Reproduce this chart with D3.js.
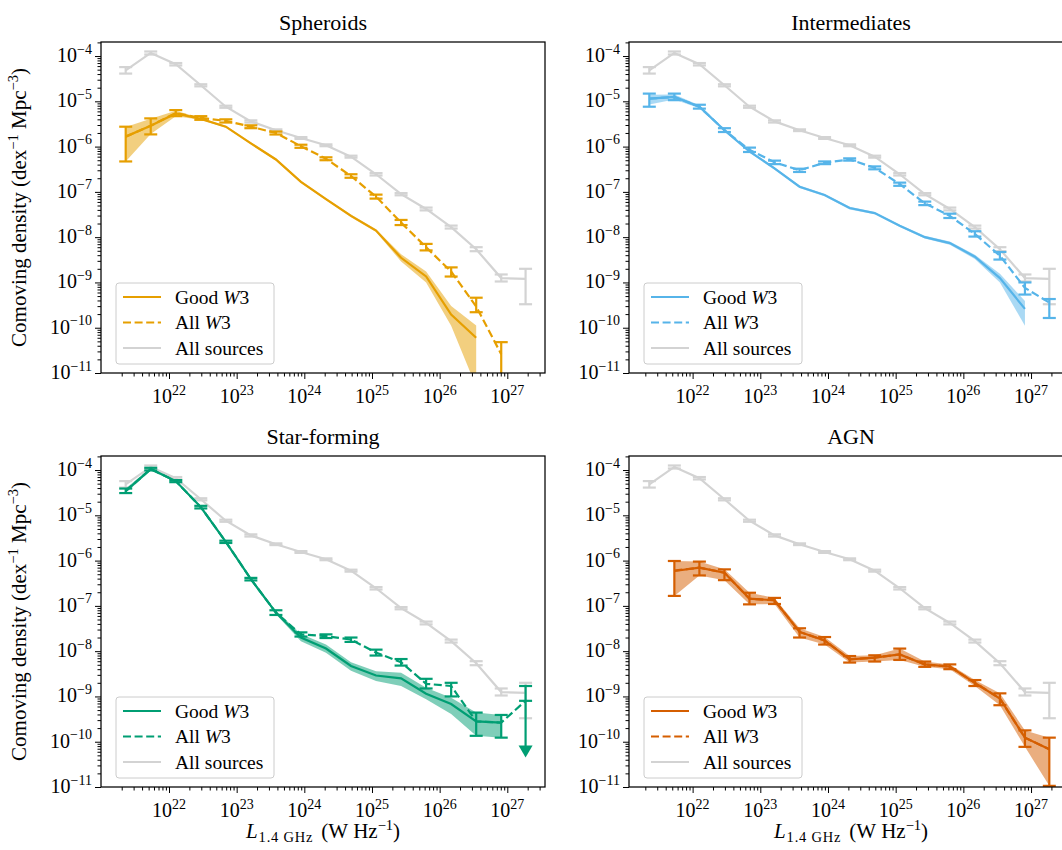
<!DOCTYPE html>
<html>
<head>
<meta charset="utf-8">
<script src="https://cdn.jsdelivr.net/npm/d3@7"></script>
<style>
  body { margin: 0; background: #fff; }
  text { font-family: "Liberation Serif", "DejaVu Serif", serif; fill: #000; }
</style>
</head>
<body>
<div id="chart"></div>
<script>
// Figure size
const width = 1062;
const height = 850;

// Bin centres (log10 L_1.4GHz, W/Hz)
const logL = [21.36, 21.73, 22.10, 22.47, 22.84, 23.21, 23.58, 23.95, 24.32,
              24.69, 25.06, 25.43, 25.80, 26.17, 26.54, 26.91, 27.27];

// All sources (grey reference curve)
const allSources   = [4.8e-5, 1.17e-4, 6.6e-5, 2.26e-5, 7.6e-6, 3.6e-6, 2.3e-6, 1.55e-6, 1.07e-6, 6.0e-7, 2.45e-7, 8.9e-8, 4.2e-8, 1.67e-8, 5.4e-9, 1.25e-9, 1.2e-9];
const allSourcesLo = [4.1e-5, 1.08e-4, 6.2e-5, 2.14e-5, 7.2e-6, 3.4e-6, 2.2e-6, 1.48e-6, 1.02e-6, 5.7e-7, 2.3e-7, 8.4e-8, 3.9e-8, 1.55e-8, 4.9e-9, 1.05e-9, 3.3e-10];
const allSourcesHi = [5.7e-5, 1.26e-4, 7.0e-5, 2.38e-5, 8.0e-6, 3.8e-6, 2.4e-6, 1.62e-6, 1.12e-6, 6.3e-7, 2.6e-7, 9.4e-8, 4.5e-8, 1.8e-8, 6.0e-9, 1.5e-9, 2.0e-9];

// Spheroids
const sphGood   = [1.66e-6, 2.9e-6, 5.4e-6, 4.1e-6, 2.75e-6, 1.18e-6, 5.2e-7, 1.67e-7, 6.9e-8, 2.95e-8, 1.4e-8, 3.5e-9, 1.36e-9, 1.95e-10, 6.0e-11, null, null];
const sphGoodLo = [4.7e-7, 1.9e-6, 4.7e-6, 3.9e-6, 2.6e-6, 1.12e-6, 4.9e-7, 1.58e-7, 6.5e-8, 2.75e-8, 1.3e-8, 2.9e-9, 1.0e-9, 1.1e-10, 5e-12, null, null];
const sphGoodHi = [2.7e-6, 4.1e-6, 6.2e-6, 4.3e-6, 2.9e-6, 1.24e-6, 5.5e-7, 1.76e-7, 7.3e-8, 3.15e-8, 1.5e-8, 4.2e-9, 1.75e-9, 3.0e-10, 1.12e-10, null, null];
const sphAll    = [1.66e-6, 2.9e-6, 5.5e-6, 4.3e-6, 3.7e-6, 2.75e-6, 2.0e-6, 1.02e-6, 5.4e-7, 2.24e-7, 7.85e-8, 2.1e-8, 6.0e-9, 1.74e-9, 2.95e-10, 2.6e-11, null];
const sphAllLo  = [4.7e-7, 1.86e-6, 4.7e-6, 3.9e-6, 3.4e-6, 2.55e-6, 1.85e-6, 9.4e-7, 5.0e-7, 2.05e-7, 7.1e-8, 1.85e-8, 5.1e-9, 1.35e-9, 2.2e-10, 1e-12, null];
const sphAllHi  = [2.75e-6, 4.2e-6, 6.4e-6, 4.7e-6, 4.0e-6, 2.95e-6, 2.15e-6, 1.1e-6, 5.8e-7, 2.45e-7, 8.7e-8, 2.4e-8, 7.1e-9, 2.15e-9, 4.6e-10, 4.8e-11, null];

// Intermediates
const intGood   = [1.15e-5, 1.25e-5, 7.6e-6, 2.3e-6, 7.8e-7, 3.3e-7, 1.3e-7, 8.5e-8, 4.4e-8, 3.4e-8, 1.78e-8, 1.0e-8, 7.4e-9, 3.7e-9, 1.25e-9, 2.6e-10, null];
const intGoodLo = [8.5e-6, 1.1e-5, 7.0e-6, 2.15e-6, 7.3e-7, 3.1e-7, 1.22e-7, 8.0e-8, 4.1e-8, 3.2e-8, 1.68e-8, 9.3e-9, 6.8e-9, 3.3e-9, 1.0e-9, 1.1e-10, null];
const intGoodHi = [1.4e-5, 1.42e-5, 8.2e-6, 2.45e-6, 8.3e-7, 3.5e-7, 1.38e-7, 9.0e-8, 4.7e-8, 3.6e-8, 1.88e-8, 1.07e-8, 8.0e-9, 4.1e-9, 1.55e-9, 3.9e-10, null];
const intAll    = [1.15e-5, 1.25e-5, 7.6e-6, 2.3e-6, 8.5e-7, 4.5e-7, 3.0e-7, 4.4e-7, 5.2e-7, 3.4e-7, 1.48e-7, 5.6e-8, 2.95e-8, 1.18e-8, 3.9e-9, 7.6e-10, 3.6e-10];
const intAllLo  = [7.6e-6, 1.06e-5, 6.9e-6, 2.1e-6, 7.6e-7, 4.1e-7, 2.75e-7, 4.1e-7, 4.9e-7, 3.15e-7, 1.36e-7, 5.1e-8, 2.65e-8, 1.03e-8, 3.2e-9, 5.4e-10, 1.64e-10];
const intAllHi  = [1.48e-5, 1.48e-5, 8.4e-6, 2.55e-6, 9.5e-7, 4.9e-7, 3.25e-7, 4.7e-7, 5.5e-7, 3.65e-7, 1.6e-7, 6.1e-8, 3.3e-8, 1.35e-8, 4.7e-9, 1.0e-9, 4.3e-10];

// Star-forming
const sfGood   = [3.45e-5, 1.05e-4, 5.7e-5, 1.52e-5, 2.6e-6, 3.9e-7, 7.1e-8, 2.0e-8, 1.14e-8, 4.7e-9, 2.9e-9, 2.5e-9, 1.15e-9, 6.8e-10, 2.8e-10, 2.65e-10, null];
const sfGoodLo = [3.1e-5, 9.8e-5, 5.4e-5, 1.42e-5, 2.45e-6, 3.65e-7, 6.5e-8, 1.65e-8, 9.2e-9, 3.7e-9, 2.2e-9, 1.7e-9, 8.7e-10, 4.1e-10, 1.35e-10, 1.23e-10, null];
const sfGoodHi = [3.9e-5, 1.12e-4, 6.0e-5, 1.62e-5, 2.75e-6, 4.15e-7, 7.8e-8, 2.4e-8, 1.4e-8, 5.7e-9, 3.6e-9, 3.35e-9, 1.55e-9, 9.3e-10, 4.4e-10, 3.9e-10, null];
const sfAll    = [3.45e-5, 1.05e-4, 5.7e-5, 1.52e-5, 2.6e-6, 3.9e-7, 7.1e-8, 2.35e-8, 2.15e-8, 1.8e-8, 9.3e-9, 5.7e-9, 1.9e-9, 1.7e-9, 2.8e-10, 2.65e-10, 8.0e-10];
const sfAllLo  = [3.1e-5, 9.8e-5, 5.4e-5, 1.42e-5, 2.45e-6, 3.65e-7, 6.3e-8, 2.1e-8, 1.95e-8, 1.6e-8, 8.0e-9, 4.8e-9, 1.5e-9, 1.0e-9, 1.35e-10, 1.23e-10, null];
const sfAllHi  = [3.9e-5, 1.12e-4, 6.0e-5, 1.62e-5, 2.75e-6, 4.15e-7, 8.0e-8, 2.6e-8, 2.35e-8, 2.0e-8, 1.08e-8, 6.7e-9, 2.45e-9, 2.0e-9, 4.4e-10, 3.9e-10, 1.7e-9];
// last star-forming bin is an upper limit, arrow drawn down to this value
const sfLimitIndex = 16;
const sfLimitTip = 4.5e-11;

// AGN
const agnGood   = [null, 5.9e-7, 7.0e-7, 5.4e-7, 1.44e-7, 1.33e-7, 2.66e-8, 1.73e-8, 6.6e-9, 7.2e-9, 8.5e-9, 5.1e-9, 4.55e-9, 2.0e-9, 9.0e-10, 1.23e-10, 6.8e-11];
const agnGoodLo = [null, 1.66e-7, 4.7e-7, 3.7e-7, 1.08e-7, 1.1e-7, 2.0e-8, 1.4e-8, 5.6e-9, 5.9e-9, 6.4e-9, 4.5e-9, 4.0e-9, 1.7e-9, 6.4e-10, 7.7e-11, 1.06e-11];
const agnGoodHi = [null, 9.8e-7, 9.5e-7, 6.4e-7, 1.95e-7, 1.5e-7, 3.2e-8, 2.05e-8, 7.8e-9, 8.1e-9, 1.14e-8, 5.9e-9, 5.1e-9, 2.3e-9, 1.17e-9, 1.78e-10, 1.23e-10];
const agnAll    = [null, 6.0e-7, 7.0e-7, 5.4e-7, 1.44e-7, 1.33e-7, 2.66e-8, 1.73e-8, 6.6e-9, 7.2e-9, 8.5e-9, 5.1e-9, 4.55e-9, 2.0e-9, 9.0e-10, 1.23e-10, 6.8e-11];
const agnAllLo  = [null, 1.66e-7, 4.7e-7, 3.7e-7, 1.08e-7, 1.1e-7, 2.0e-8, 1.4e-8, 5.6e-9, 5.9e-9, 6.4e-9, 4.5e-9, 4.0e-9, 1.7e-9, 6.4e-10, 7.7e-11, 1.06e-11];
const agnAllHi  = [null, 9.8e-7, 9.5e-7, 6.4e-7, 1.95e-7, 1.5e-7, 3.2e-8, 2.05e-8, 7.8e-9, 8.1e-9, 1.14e-8, 5.9e-9, 5.1e-9, 2.3e-9, 1.17e-9, 1.78e-10, 1.23e-10];

// Axis tick values
const xMajor = [22, 23, 24, 25, 26, 27];
const yMajor = [-4, -5, -6, -7, -8, -9, -10, -11];
const legendLabels = ["Good", "All", "All sources"];

// Panel layout
const W = 444, H = 331;
const grey = "#d3d3d3";
const capHalf = 6.5;
const lw = 2.2;

const panels = [
  { title: "Spheroids", color: "#E69F00", left: 101, top: 42, xlog: [20.995, 27.557],
    good: [sphGood, sphGoodLo, sphGoodHi], all: [sphAll, sphAllLo, sphAllHi], yLabel: true, xLabel: false },
  { title: "Intermediates", color: "#56B4E9", left: 629, top: 42, xlog: [21.06, 27.62],
    good: [intGood, intGoodLo, intGoodHi], all: [intAll, intAllLo, intAllHi], yLabel: false, xLabel: false },
  { title: "Star-forming", color: "#009E73", left: 101, top: 456, xlog: [20.995, 27.557],
    good: [sfGood, sfGoodLo, sfGoodHi], all: [sfAll, sfAllLo, sfAllHi], yLabel: true, xLabel: true,
    limit: { i: sfLimitIndex, tip: sfLimitTip } },
  { title: "AGN", color: "#D55E00", left: 629, top: 456, xlog: [21.06, 27.62],
    good: [agnGood, agnGoodLo, agnGoodHi], all: [agnAll, agnAllLo, agnAllHi], yLabel: false, xLabel: true }
];

const svg = d3.select("#chart")
  .append("svg")
  .attr("width", width)
  .attr("height", height)
  .style("background", "#fff");

// turn three parallel arrays into point objects
function toPoints(vals, lo, hi) {
  return logL.map((l, i) => ({
    L: Math.pow(10, l),
    v: vals[i],
    lo: lo ? lo[i] : null,
    hi: hi ? hi[i] : null
  }));
}

function drawErrorBars(g, pts, color, x, y) {
  const eb = pts.filter(d => d.v != null && d.lo != null && d.hi != null);
  const grp = g.append("g")
    .attr("stroke", color)
    .attr("stroke-width", lw);
  grp.selectAll("line.bar")
    .data(eb).enter().append("line")
    .attr("x1", d => x(d.L)).attr("x2", d => x(d.L))
    .attr("y1", d => y(Math.max(d.lo, 1e-13))).attr("y2", d => y(d.hi));
  grp.selectAll("line.lo")
    .data(eb).enter().append("line")
    .attr("x1", d => x(d.L) - capHalf).attr("x2", d => x(d.L) + capHalf)
    .attr("y1", d => y(Math.max(d.lo, 1e-13))).attr("y2", d => y(Math.max(d.lo, 1e-13)));
  grp.selectAll("line.hi")
    .data(eb).enter().append("line")
    .attr("x1", d => x(d.L) - capHalf).attr("x2", d => x(d.L) + capHalf)
    .attr("y1", d => y(d.hi)).attr("y2", d => y(d.hi));
}

// "10" with a superscript exponent
function powLabel(sel, exp, big, small) {
  sel.append("tspan").attr("font-size", big).text("10");
  sel.append("tspan").attr("font-size", small).attr("dy", -big * 0.42)
    .text(exp < 0 ? "\u2212" + Math.abs(exp) : String(exp));
}

panels.forEach((p, k) => {
  const g = svg.append("g").attr("transform", `translate(${p.left},${p.top})`);

  const x = d3.scaleLog()
    .domain([Math.pow(10, p.xlog[0]), Math.pow(10, p.xlog[1])])
    .range([0, W]);
  const y = d3.scaleLog()
    .domain([1e-11, Math.pow(10, -3.69)])
    .range([H, 0]);

  // clip region
  const clipId = "clip" + k;
  g.append("clipPath").attr("id", clipId)
    .append("rect").attr("width", W).attr("height", H);
  const plot = g.append("g").attr("clip-path", `url(#${clipId})`);

  const line = d3.line()
    .defined(d => d.v != null)
    .x(d => x(d.L))
    .y(d => y(d.v));

  // All sources
  const greyPts = toPoints(allSources, allSourcesLo, allSourcesHi);
  plot.append("path").datum(greyPts)
    .attr("d", line).attr("fill", "none")
    .attr("stroke", grey).attr("stroke-width", lw);
  drawErrorBars(plot, greyPts, grey, x, y);

  // Good W3: shaded band + solid line
  const goodPts = toPoints(p.good[0], p.good[1], p.good[2]);
  const band = d3.area()
    .defined(d => d.v != null)
    .x(d => x(d.L))
    .y0(d => y(Math.max(d.lo, 1e-13)))
    .y1(d => y(d.hi));
  plot.append("path").datum(goodPts)
    .attr("d", band).attr("fill", p.color).attr("fill-opacity", 0.5);
  plot.append("path").datum(goodPts)
    .attr("d", line).attr("fill", "none")
    .attr("stroke", p.color).attr("stroke-width", lw);

  // All W3: dashed line with error bars
  const allPts = toPoints(p.all[0], p.all[1], p.all[2]);
  plot.append("path").datum(allPts)
    .attr("d", line).attr("fill", "none")
    .attr("stroke", p.color).attr("stroke-width", lw)
    .attr("stroke-dasharray", "8,3.6");
  drawErrorBars(plot, allPts, p.color, x, y);

  // upper limit arrow
  if (p.limit) {
    const d = allPts[p.limit.i];
    const cx = x(d.L);
    const ua = plot.append("g").attr("stroke", p.color).attr("stroke-width", lw);
    ua.append("line").attr("x1", cx).attr("x2", cx)
      .attr("y1", y(d.hi)).attr("y2", y(p.limit.tip) - 8);
    [d.hi, d.v].forEach(v => {
      ua.append("line").attr("x1", cx - capHalf).attr("x2", cx + capHalf)
        .attr("y1", y(v)).attr("y2", y(v));
    });
    const tipY = y(p.limit.tip);
    plot.append("path")
      .attr("d", `M${cx - 7},${tipY - 12}L${cx + 7},${tipY - 12}L${cx},${tipY}Z`)
      .attr("fill", p.color);
  }

  // Axes frame
  g.append("rect").attr("width", W).attr("height", H)
    .attr("fill", "none").attr("stroke", "#000").attr("stroke-width", 1.25);

  // x ticks
  const xMinor = [];
  for (let e = 20; e <= 27; e++) {
    for (let m = 2; m <= 9; m++) {
      const v = m * Math.pow(10, e);
      if (v > x.domain()[0] && v < x.domain()[1]) xMinor.push(v);
    }
  }
  const xAxisG = g.append("g").attr("transform", `translate(0,${H})`);
  xAxisG.append("g")
    .call(d3.axisBottom(x).tickValues(xMajor.map(e => Math.pow(10, e))).tickSize(6).tickFormat(""))
    .call(a => a.select(".domain").remove());
  xAxisG.append("g")
    .call(d3.axisBottom(x).tickValues(xMinor).tickSize(3.5).tickFormat(""))
    .call(a => a.select(".domain").remove());
  xAxisG.selectAll(".tick line").attr("stroke", "#000").attr("stroke-width", 1);

  xMajor.forEach(e => {
    const t = g.append("text")
      .attr("x", x(Math.pow(10, e)))
      .attr("y", H + 30)
      .attr("text-anchor", "middle");
    powLabel(t, e, 20, 14);
  });

  // y ticks
  const yMinor = [];
  for (let e = -11; e <= -4; e++) {
    for (let m = 2; m <= 9; m++) {
      const v = m * Math.pow(10, e);
      if (v > y.domain()[0] && v < y.domain()[1]) yMinor.push(v);
    }
  }
  const yAxisG = g.append("g");
  yAxisG.append("g")
    .call(d3.axisLeft(y).tickValues(yMajor.map(e => Math.pow(10, e))).tickSize(6).tickFormat(""))
    .call(a => a.select(".domain").remove());
  yAxisG.append("g")
    .call(d3.axisLeft(y).tickValues(yMinor).tickSize(3.5).tickFormat(""))
    .call(a => a.select(".domain").remove());
  yAxisG.selectAll(".tick line").attr("stroke", "#000").attr("stroke-width", 1);

  yMajor.forEach(e => {
    const t = g.append("text")
      .attr("x", -9)
      .attr("y", y(Math.pow(10, e)) + 6)
      .attr("text-anchor", "end");
    powLabel(t, e, 20, 14);
  });

  // Title
  g.append("text")
    .attr("x", W / 2).attr("y", -12)
    .attr("text-anchor", "middle")
    .attr("font-size", 22)
    .text(p.title);

  // y label
  if (p.yLabel) {
    const yl = g.append("text")
      .attr("transform", `translate(${-75},${H / 2}) rotate(-90)`)
      .attr("text-anchor", "middle")
      .attr("font-size", 21);
    yl.append("tspan").text("Comoving density (dex");
    yl.append("tspan").attr("font-size", 14.5).attr("dy", -8).text("\u22121");
    yl.append("tspan").attr("dy", 8).text(" Mpc");
    yl.append("tspan").attr("font-size", 14.5).attr("dy", -8).text("\u22123");
    yl.append("tspan").attr("dy", 8).text(")");
  }

  // x label
  if (p.xLabel) {
    const xl = g.append("text")
      .attr("x", W / 2).attr("y", H + 51)
      .attr("text-anchor", "middle")
      .attr("font-size", 21);
    xl.append("tspan").attr("font-style", "italic").text("L");
    xl.append("tspan").attr("font-size", 14.5).attr("dy", 4).attr("dx", 1)
      .attr("letter-spacing", 0.8).text("1.4 GHz");
    xl.append("tspan").attr("dy", -4).attr("dx", 8).text("(W");
    xl.append("tspan").attr("dx", 5).text("Hz");
    xl.append("tspan").attr("font-size", 14.5).attr("dy", -8).text("\u22121");
    xl.append("tspan").attr("dy", 8).text(")");
  }

  // Legend
  const lg = g.append("g").attr("transform", `translate(${15},${H - 90})`);
  lg.append("rect")
    .attr("width", 158).attr("height", 81).attr("rx", 3)
    .attr("fill", "#fff").attr("fill-opacity", 0.8)
    .attr("stroke", "#cccccc").attr("stroke-width", 1);
  const rows = [
    { c: p.color, dash: null, label: legendLabels[0], w3: true },
    { c: p.color, dash: "8,3.6", label: legendLabels[1], w3: true },
    { c: grey, dash: null, label: legendLabels[2], w3: false }
  ];
  rows.forEach((r, i) => {
    const cy = 14 + i * 25.5;
    lg.append("line")
      .attr("x1", 7).attr("x2", 45).attr("y1", cy).attr("y2", cy)
      .attr("stroke", r.c).attr("stroke-width", lw)
      .attr("stroke-dasharray", r.dash);
    const t = lg.append("text")
      .attr("x", 59).attr("y", cy + 6.5)
      .attr("font-size", 19.5);
    t.append("tspan").text(r.label);
    if (r.w3) {
      t.append("tspan").text(" ");
      t.append("tspan").attr("font-style", "italic").text("W");
      t.append("tspan").text("3");
    }
  });
});
</script>
</body>
</html>
